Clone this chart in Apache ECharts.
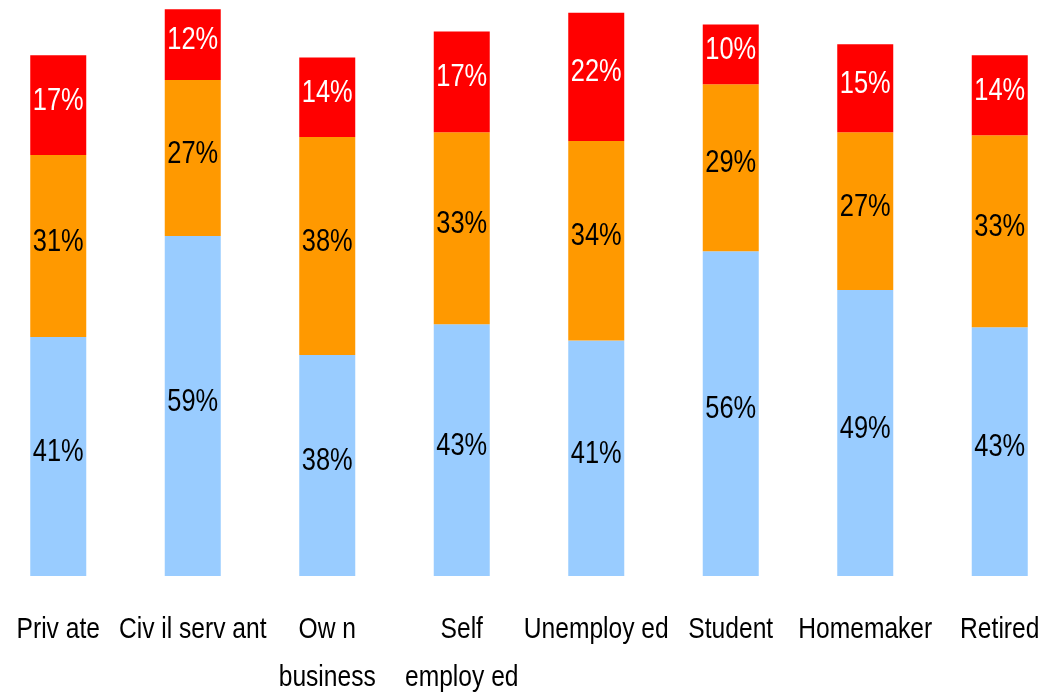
<!DOCTYPE html>
<html>
<head>
<meta charset="utf-8">
<script src="https://cdn.jsdelivr.net/npm/echarts@6/dist/echarts.min.js"></script>
<style>
    html, body { margin: 0; padding: 0; background: #fff; }
    #chart-container { width: 1042px; height: 694px; }
</style>
</head>
<body>
<div id="chart-container"></div>
<script>
// categories as printed under the bars (spacing kept as it appears)
const categories = ['Priv ate', 'Civ il serv ant', 'Ow n\nbusiness', 'Self\nemploy ed',
    'Unemploy ed', 'Student', 'Homemaker', 'Retired'];

// percentages (bottom -> top)
const blueValues = [41.2, 58.6, 38.1, 43.4, 40.6, 56.0, 49.3, 42.9];
const orangeValues = [31.4, 26.9, 37.6, 33.1, 34.4, 28.8, 27.2, 33.1];
const redValues = [17.2, 12.2, 13.7, 17.4, 22.1, 10.3, 15.2, 13.8];

const layerColors = ['#99CCFF', '#FF9900', '#FF0000'];
const labelColors = ['#000000', '#000000', '#ffffff'];

// the original uses a narrow Arial; squeeze Liberation Sans to match
const fontFamily = "'Liberation Sans', Arial, sans-serif";
const narrow = 0.82;

// label items: [category index, bottom of segment, top of segment, layer]
function buildSegmentLabels() {
    const items = [];
    const layers = [blueValues, orangeValues, redValues];
    categories.forEach(function (c, i) {
        let base = 0;
        layers.forEach(function (arr, k) {
            items.push([i, base, base + arr[i], k, arr[i]]);
            base += arr[i];
        });
    });
    return items;
}

function renderSegmentLabel(params, api) {
    const mid = api.coord([api.value(0), (api.value(1) + api.value(2)) / 2]);
    const layer = api.value(3);
    return {
        type: 'text',
        x: mid[0],
        y: mid[1] - 4,
        scaleX: narrow,
        style: {
            text: Math.round(api.value(4)) + '%',
            fill: labelColors[layer],
            font: '31px ' + fontFamily,
            align: 'center',
            verticalAlign: 'middle'
        }
    };
}

function renderCategoryLabel(params, api) {
    const pt = api.coord([api.value(0), 0]);
    return {
        type: 'text',
        x: pt[0],
        y: pt[1] + 30,
        scaleX: narrow,
        style: {
            text: categories[api.value(0)],
            fill: '#000000',
            font: '30px ' + fontFamily,
            lineHeight: 48,
            align: 'center',
            verticalAlign: 'top'
        }
    };
}

function makeBar(name, data, color) {
    return {
        name: name,
        type: 'bar',
        stack: 'total',
        barWidth: 56,
        data: data,
        itemStyle: { color: color },
        emphasis: { disabled: true }
    };
}

const chartDom = document.getElementById('chart-container');
const myChart = echarts.init(chartDom, null, { renderer: 'canvas' });

const option = {
    animation: false,
    backgroundColor: '#ffffff',
    tooltip: { show: false },
    grid: {
        left: -9,
        right: -25,
        top: -4,
        bottom: 118,
        containLabel: false,
        outerBoundsMode: 'none'
    },
    xAxis: {
        type: 'category',
        data: categories,
        axisLine: { show: false },
        axisTick: { show: false },
        axisLabel: { show: false }
    },
    yAxis: {
        type: 'value',
        min: 0,
        max: 100,
        show: false,
        splitLine: { show: false }
    },
    series: [
        makeBar('blue', blueValues, layerColors[0]),
        makeBar('orange', orangeValues, layerColors[1]),
        makeBar('red', redValues, layerColors[2]),
        {
            type: 'custom',
            name: 'segment labels',
            renderItem: renderSegmentLabel,
            data: buildSegmentLabels(),
            encode: { x: 0, y: 2 },
            clip: false,
            silent: true,
            z: 10
        },
        {
            type: 'custom',
            name: 'category labels',
            renderItem: renderCategoryLabel,
            data: categories.map(function (c, i) { return [i, 0]; }),
            encode: { x: 0, y: 1 },
            clip: false,
            silent: true
        }
    ]
};

myChart.setOption(option);
</script>
</body>
</html>
